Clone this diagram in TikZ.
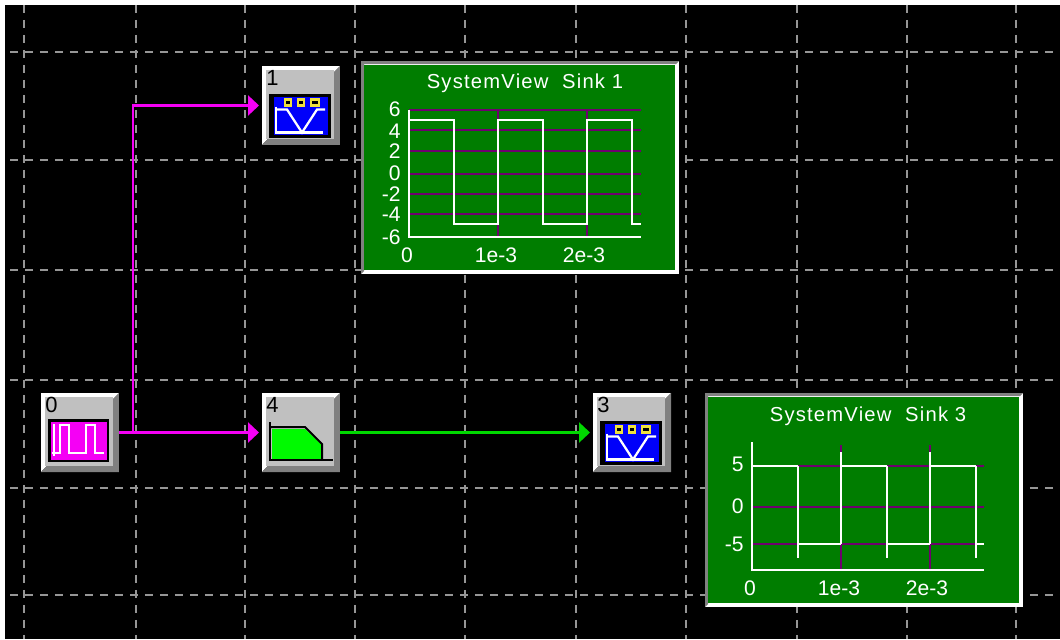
\documentclass[tikz,border=0pt]{standalone}
\usepackage{fontspec}
\setmainfont{Liberation Sans}
\usepackage{xcolor}
\definecolor{svgrid}{RGB}{150,150,150}
\definecolor{svmagenta}{RGB}{245,0,245}
\definecolor{svgreen}{RGB}{0,215,0}
\definecolor{svfilter}{RGB}{0,250,0}
\definecolor{svsink}{RGB}{0,125,0}
\definecolor{svpurple}{RGB}{110,0,110}
\definecolor{svblue}{RGB}{0,0,250}
\definecolor{svyellow}{RGB}{240,225,60}
\definecolor{svface}{RGB}{192,192,192}
\definecolor{svshade}{RGB}{128,128,128}
\usepackage{tikz}
\usetikzlibrary{arrows.meta, positioning}
\tikzset{
  gridline/.style={svgrid, line width=0.04cm, dash pattern=on 0.16cm off 0.14cm},
  block/.style={minimum width=1.56cm, minimum height=1.58cm, inner sep=0pt, outer sep=0pt},
  blocknum/.style={font=\fontsize{12.5}{12.5}\selectfont, black, inner sep=0pt},
  signal/.style={line width=0.05cm, shorten >=0.06cm, -{Triangle[length=0.22cm,width=0.4cm]}},
  sinktext/.style={font=\fontsize{12}{12}\selectfont, white, inner sep=0pt},
  sinktitle/.style={font=\fontsize{11.5}{11.5}\selectfont\addfontfeature{LetterSpace=6}, white, inner sep=0pt},
  trace/.style={white, line width=0.055cm},
  level/.style={svpurple, line width=0.05cm},
  iconline/.style={white, line width=0.045cm}
}
% one grey raised block with its number
\newcommand{\svblock}[4]{
  \node[block] (#1) at (#2,#3) {};
  \fill[white] (#1.south west) -- (#1.north west) -- (#1.north east) -- cycle;
  \fill[svshade] (#1.south west) -- (#1.south east) -- (#1.north east) -- cycle;
  \fill[svface] ([shift={(4,4)}]#1.north west) rectangle ([shift={(-6,-6)}]#1.south east);
  \node[blocknum, anchor=north west] (#1num) at ([shift={(4,4)}]#1.north west) {#4};
}
% blue scope icon placed from the block centre
\newcommand{\svscope}[1]{
  \fill[black] ([shift={(-32,-12)}]#1.center) rectangle ([shift={(30,32)}]#1.center);
  \fill[svblue] ([shift={(-27,-9)}]#1.center) rectangle ([shift={(27,29)}]#1.center);
  \draw[iconline] ([shift={(-25,1)}]#1.center) -- ([shift={(-25,27)}]#1.center) -- ([shift={(22,27)}]#1.center);
  \draw[iconline] ([shift={(-25,4)}]#1.center) -- ([shift={(-14,4)}]#1.center) -- ([shift={(1,27)}]#1.center) -- ([shift={(16,4)}]#1.center) -- ([shift={(24,4)}]#1.center);
  \foreach \px/\pw in {-13/3,0/3,14/4}{
    \draw[svyellow, fill=black, line width=0.05cm] ([shift={(\px-\pw,-6)}]#1.center) rectangle ([shift={(\px+\pw,0)}]#1.center);
  }
}
\begin{document}
\begin{tikzpicture}[x=0.02cm, y=-0.02cm]
  \useasboundingbox (0,0) rectangle (1060,639);
  \fill[white] (0,0) rectangle (1060,639);
  \fill[black] (5,5) rectangle (1060,639);

  % --- Grid ---
  \foreach \gx in {24,136,245,355,465,576,686,797,907,1016}{
    \draw[gridline] (\gx,5) -- (\gx,639);
  }
  \foreach \gy in {52,160,270,380,488,595}{
    \draw[gridline] (10,\gy) -- (1060,\gy);
  }

  % --- Blocks ---
  \svblock{src}{80}{432.5}{0}
  \svblock{sinkone}{301}{105.5}{1}
  \svblock{filt}{301}{432.5}{4}
  \svblock{sinkthree}{632}{432.5}{3}

  % pulse icon
  \fill[black] (48,419) rectangle (109,462);
  \fill[svmagenta] (51,422) rectangle (107,460);
  \draw[iconline] (54,424) -- (54,456);
  \draw[iconline] (52,453) -- (60,453) -- (60,425) -- (69,425) -- (69,453) -- (86,453) -- (86,425) -- (95,425) -- (95,453) -- (104,453);

  % filter icon
  \fill[svfilter] (272,429) -- (305,429) -- (322,445) -- (322,460) -- (272,460) -- cycle;
  \draw[black, line width=0.04cm] (270,422) -- (270,460) -- (333,460);
  \draw[black, line width=0.04cm] (270,427) -- (305,427) -- (322,444) -- (322,460);

  % scope icons
  \svscope{sinkone}
  \svscope{sinkthree}

  % --- Connectors ---
  \coordinate (jct) at (133,433);
  \draw[signal, svmagenta] (jct) |- (sinkone.west);
  \draw[signal, svmagenta] (src.east) -- (filt.west);
  \draw[signal, svgreen] (filt.east) -- (sinkthree.west);

  % --- Sink 1 ---
  \fill[white] (361,61) rectangle (679,274);
  \fill[svshade] (361,61) -- (679,61) -- (676,64) -- (364,64) -- (364,271) -- (361,274) -- cycle;
  \fill[svsink] (364,65) rectangle (675,270);
  \node[sinktitle] (titleone) at (525,83) {SystemView\ \ Sink 1};
  \foreach \ly in {110,130,151,174,194,214}{
    \draw[level] (409,\ly) -- (641,\ly);
  }
  \draw[level] (498,110) -- (498,237);
  \draw[level] (587,110) -- (587,237);
  \draw[trace] (409,110) -- (409,237) -- (641,237);
  \draw[trace] (409,120) -- (454,120) -- (454,224) -- (498,224) -- (498,120) -- (543,120) -- (543,224) -- (587,224) -- (587,120) -- (632,120) -- (632,224) -- (641,224);
  \foreach \lab/\ly in {6/109,4/131,2/151,0/173,-2/194,-4/214,-6/237}{
    \node[sinktext, anchor=east] at (401,\ly) {\lab};
  }
  \node[sinktext] at (407,255) {0};
  \node[sinktext] at (496,255) {1e-3};
  \node[sinktext] at (584,255) {2e-3};

  % --- Sink 3 ---
  \fill[white] (705,393) rectangle (1023,607);
  \fill[svshade] (705,393) -- (1023,393) -- (1020,396) -- (708,396) -- (708,604) -- (705,607) -- cycle;
  \fill[svsink] (708,397) rectangle (1019,603);
  \node[sinktitle] (titlethree) at (868,416) {SystemView\ \ Sink 3};
  \foreach \ly in {466,507,544}{
    \draw[level] (752,\ly) -- (984,\ly);
  }
  \draw[level] (841,445) -- (841,570);
  \draw[level] (930,445) -- (930,570);
  \draw[trace] (752,442) -- (752,570) -- (984,570);
  \draw[trace] (752,466) -- (798,466);
  \draw[trace] (798,466) -- (798,558);
  \draw[trace] (798,544) -- (841,544);
  \draw[trace] (841,452) -- (841,544);
  \draw[trace] (841,466) -- (887,466);
  \draw[trace] (887,466) -- (887,558);
  \draw[trace] (887,544) -- (930,544);
  \draw[trace] (930,452) -- (930,544);
  \draw[trace] (930,466) -- (976,466);
  \draw[trace] (976,466) -- (976,558);
  \draw[trace] (976,544) -- (984,544);
  \foreach \lab/\ly in {5/464,0/506,-5/544}{
    \node[sinktext, anchor=east] at (744,\ly) {\lab};
  }
  \node[sinktext] at (750,588) {0};
  \node[sinktext] at (839,588) {1e-3};
  \node[sinktext] at (927,588) {2e-3};
\end{tikzpicture}
\end{document}
